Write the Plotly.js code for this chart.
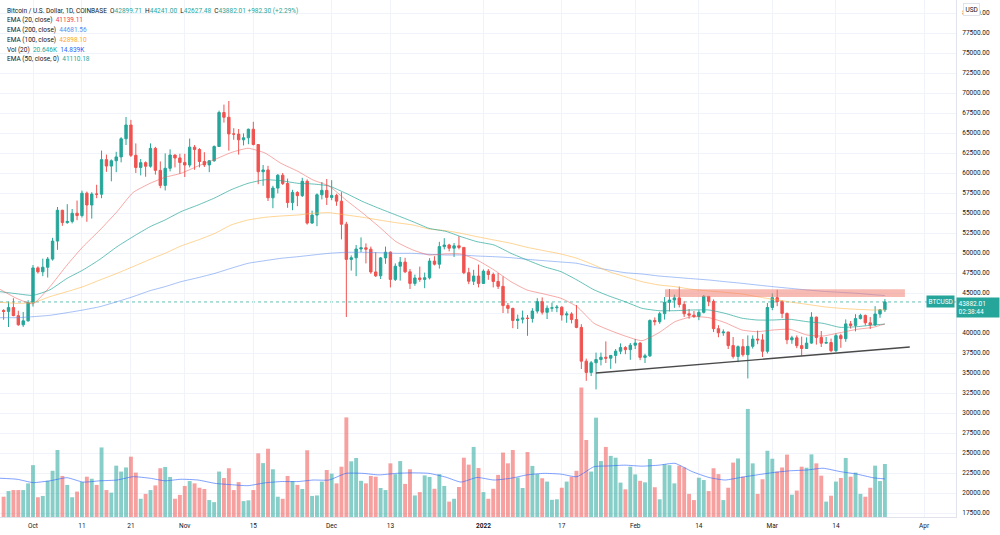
<!DOCTYPE html>
<html><head><meta charset="utf-8">
<script src="https://cdn.plot.ly/plotly-3.0.1.min.js"></script>
<style>html,body{margin:0;padding:0;background:#fff;}#chart{width:1000px;height:535px;}</style>
</head><body><div id="chart"></div>
<script>
// ---------- DATA (BTC/USD daily, Coinbase) ----------
const startDate = '2021-09-25';
const opens = [
 42820,42700,43180,42170,41030,41520,
 43790,48140,47650,48220,49240,51490,55340,53800,53950,54970,
 54680,57480,56000,57370,57350,61670,60870,61530,62010,64280,
 66000,62210,60690,61290,60850,63080,60330,58450,60590,62250,61880,
 61320,61000,63230,62940,61440,61010,61530,63310,67560,66970,
 64880,64860,64150,64400,65470,63560,60160,60380,56900,58120,
 59720,58690,56300,57570,57170,58960,53740,54740,57280,57830,
 56950,57200,56480,53600,49200,49400,50500,50650,50480,47630,
 47150,49390,50100,46700,48350,48860,47650,46200,46880,46700,
 46900,48990,48600,50800,51000,50600,50900,50700,47540,46470,47120,
 46200,47730,47310,46440,45830,43430,43080,41560,41730,41860,
 41820,42740,43920,42590,43100,43150,43230,42250,42380,41680,
 40700,36480,35070,36280,36680,36970,36850,37200,37730,38180,37920,
 38480,38740,36950,37150,41570,41410,42410,43840,44120,44390,
 43570,42400,42230,42070,42580,44580,43960,40540,40030,40120,
 38430,37070,38290,37290,38330,39240,39140,37720,
 43190,44420,43920,42450,39150,39400,38420,38060,38740,41980,
 39440,38730,38810,37790,39670,39290,41140,40950,41800,42200,
 41270,41000,42370,42899.71];
const highs = [
 42970,43920,44350,42780,42630,44100,
 48500,48330,49300,49500,51900,55750,55400,56100,55500,56560,
 57800,57680,57600,58530,62800,62300,61700,62650,64480,67000,
 66640,63700,61750,61450,63700,63270,61450,62450,62960,62300,62400,
 62400,64300,63500,63100,62600,61600,63450,67800,68550,69000,
 65600,65500,64950,65550,66400,63600,61000,60900,58400,59870,
 60000,59300,57900,57720,59400,59200,55300,57450,58870,59250,
 59100,57400,57600,53900,49700,51000,51950,51200,50800,50100,
 49500,50800,50200,48700,49500,49400,48000,47300,48300,47550,
 49350,49600,51400,51850,51150,51250,52100,50700,48150,47900,48550,
 47950,47990,47550,47500,47070,43750,43150,42300,42800,42250,
 43100,44350,44450,43450,43800,43500,43350,42700,42600,43500,
 41100,36800,36500,37550,37550,38950,37250,38000,38700,38360,38750,
 39250,38850,37400,41700,41950,42650,44500,45500,44800,45800,
 43950,43000,42750,42850,44750,44580,44200,40970,40450,40150,
 39500,38450,39250,39700,39700,40300,39850,43750,
 44950,45400,44100,42550,39650,39700,39550,39450,42600,42050,
 40250,39500,39300,39950,39900,41700,41500,42350,42400,42300,
 42000,43350,43000,44241.00];
const lows = [
 41650,40750,42100,40900,40760,41420,
 43300,47430,47100,46930,49050,50400,53400,53650,53700,54100,
 54440,53900,54300,56850,56850,60150,58960,60100,61330,63500,
 62000,60000,59700,59530,60670,59800,58100,57820,60200,60700,59900,
 59500,60700,60400,60700,60750,60100,61400,63300,66300,62800,
 64150,62300,63450,63600,63450,58600,58400,56500,55600,57450,
 58500,55650,55350,55850,57000,53550,53650,53350,56700,56000,
 56600,55900,51700,42000,47800,47100,50100,48700,47400,47000,
 46750,48650,45700,46500,46550,47500,45500,45900,46400,45600,
 46700,48450,48050,50450,50200,49500,50450,47350,46100,46000,45700,
 46150,46650,45700,45500,42500,42450,40600,40500,41200,39650,
 41300,42450,42300,41750,42650,42600,41550,41280,41200,40600,
 35500,34020,34620,32950,35950,36250,35520,36200,37350,37350,36650,
 38000,36600,36250,37000,40950,41150,41680,42700,43150,43200,
 42000,41780,41880,41600,42450,43350,40120,39470,39650,38000,
 36800,36350,37050,34320,38050,38600,37000,37450,
 42850,43350,41850,38600,38650,38100,37150,38000,38650,38550,
 38250,38700,37600,37600,38150,38900,40550,40200,41700,40950,
 40500,40900,41900,42627.48];
const closes = [
 42700,43180,42170,41030,41520,43790,
 48140,47650,48220,49240,51490,55340,53800,53950,54970,54680,
 57480,56000,57370,57350,61670,60870,61530,62010,64280,66000,
 62210,60690,61290,60850,63080,60330,58450,60590,62250,61880,61320,
 61000,63230,62940,61440,61010,61530,63310,67560,66970,64880,
 64860,64150,64400,65470,63560,60160,60380,56900,58120,59720,
 58690,56300,57570,57170,58960,53740,54740,57280,57830,56950,
 57200,56480,53600,49200,49400,50500,50650,50480,47630,47150,
 49390,50100,46700,48350,48860,47650,46200,46880,46700,46900,
 48990,48600,50800,51000,50600,50900,50700,47540,46470,47120,46200,
 47730,47310,46440,45830,43430,43080,41560,41730,41860,41820,
 42740,43920,42590,43100,43150,43230,42250,42380,41680,40700,
 36480,35070,36280,36680,36970,36850,37200,37730,38180,37920,38480,
 38740,36950,37150,41570,41410,42410,43840,44120,44390,43570,
 42400,42230,42070,42580,44580,43960,40540,40030,40120,38430,
 37070,38290,37290,38330,39240,39140,37720,43190,
 44420,43920,42450,39150,39400,38420,38060,38740,41980,39440,
 38730,38810,37790,39670,39290,41140,40950,41800,42200,41270,
 41000,42370,42899.71,43882.01];
const volumesK = [
 7.9,10.1,10.5,10.5,10.5,13.1,
 20.2,7.7,8.2,14.1,18.0,26.1,16.0,12.5,7.7,9.9,
 13.6,15.7,14.9,12.5,27.1,10.5,9.5,20.0,17.7,19.3,
 23.5,17.3,7.1,9.0,10.5,12.3,19.0,19.5,15.6,7.1,8.6,
 12.1,14.0,13.1,11.4,10.9,6.6,5.8,17.7,15.2,19.0,
 10.5,13.6,6.2,6.5,10.5,24.8,21.0,26.6,18.6,7.9,
 7.1,16.0,14.0,12.5,10.9,26.0,8.2,8.4,13.8,18.3,
 16.9,13.1,19.6,38.8,21.7,23.0,14.1,13.1,16.0,15.7,
 11.3,10.5,20.9,16.7,21.8,12.9,18.6,8.4,9.7,16.2,
 15.6,11.0,16.7,12.1,6.0,7.1,11.7,23.1,20.4,27.3,19.1,
 9.7,7.1,11.0,16.4,25.1,20.9,26.1,15.4,11.3,25.3,
 19.9,16.7,15.1,13.8,6.7,6.9,11.4,13.8,15.7,18.0,
 50.4,30.0,17.7,38.7,21.8,27.3,23.8,23.1,13.4,10.8,19.6,
 16.6,14.1,13.5,22.6,11.6,6.9,20.5,20.2,13.1,20.0,
 19.3,9.0,6.6,15.3,14.4,10.1,19.0,16.7,6.6,11.4,
 21.2,22.8,15.7,42.1,20.9,9.0,14.7,25.8,
 22.7,17.7,19.3,24.3,8.7,10.3,19.6,19.2,24.4,20.9,
 16.1,6.0,8.3,13.8,15.2,23.0,15.7,17.3,9.0,7.9,
 11.4,20.0,14.0,20.646];

// indicator lines
const emaDates = [
 '2021-09-24 06:00','2021-09-27 18:00','2021-10-01','2021-10-04 11:00','2021-10-07 23:00','2021-10-11 05:00','2021-10-14 16:00','2021-10-18 04:00','2021-10-21 10:00','2021-10-24 22:00',
 '2021-10-27 23:00','2021-10-31 05:30','2021-11-03 17:00','2021-11-07 04:00','2021-11-10 10:30','2021-11-13 22:00','2021-11-17 09:00','2021-11-20 15:30','2021-11-24 03:00','2021-11-27 04:30',
 '2021-11-30 11:00','2021-12-03 22:00','2021-12-07 09:30','2021-12-10 16:00','2021-12-14 03:30','2021-12-17 14:30','2021-12-20 21:00','2021-12-24 08:30','2021-12-27 10:00','2021-12-30 16:30',
 '2022-01-03 04:00','2022-01-06 15:00','2022-01-09 21:30','2022-01-13 09:00','2022-01-16 20:00','2022-01-20 02:30','2022-01-23 14:00','2022-01-26 15:30','2022-01-29 22:00','2022-02-02 09:30',
 '2022-02-05 20:30','2022-02-09 03:00','2022-02-12 14:30','2022-02-16 01:30','2022-02-19 08:00','2022-02-22 19:30','2022-02-25 21:00','2022-03-01 03:30','2022-03-04 15:00','2022-03-08 02:00',
 '2022-03-11 08:30','2022-03-14 20:00','2022-03-18 07:00','2022-03-21 13:30','2022-03-24'];
const ema20 = [
 45460,44300,43650,45790,48500,50790,52875,55170,57550,58710,
 59460,59960,60875,61700,62550,63090,62500,61210,60200,59125,
 58375,56625,54960,53290,51415,50375,49750,49900,49875,49125,
 47875,46415,45375,44875,44340,43300,41210,40375,39625,39040,
 40040,41415,42040,41915,41300,40375,40165,40375,40460,39750,
 39625,40040,40460,40710,41139.11];
const ema50 = [
 45170,44900,44700,45400,46830,47875,49210,50790,52040,53290,
 54125,55170,56000,56900,57900,58710,59150,59040,58710,58625,
 58375,57460,56415,55585,54750,53915,53085,52700,52040,51415,
 51000,49960,49125,48290,47665,46625,45400,44625,43915,43085,
 42790,42790,42875,42875,42460,41850,41625,41625,41710,41415,
 41210,40710,40790,41000,41110.18];
const ema100 = [
 43835,43710,43790,44540,45170,45790,46625,47460,48290,49210,
 49960,50875,51625,52460,53500,54125,54460,54625,54750,54960,
 55040,54750,54460,54125,53790,53500,53000,52790,52460,52040,
 51625,51210,50710,50290,49875,49335,48500,47665,47040,46415,
 46000,45790,45460,45250,45085,44875,44540,44210,43875,43585,
 43290,43085,42960,42875,42898.10];
const ema200 = [
 41915,41915,42040,42210,42540,42875,43290,43915,44540,45290,
 45790,46415,46915,47460,48085,48710,49040,49335,49540,49750,
 49960,50085,50085,50040,49960,49960,49835,49750,49750,49625,
 49540,49415,49210,49040,48875,48710,48210,47875,47540,47375,
 47125,46960,46790,46625,46415,46210,46000,45790,45585,45375,
 45210,45085,44960,44790,44681.56];
const volMA20K = [
 15.1,14.7,13.4,14.1,15.3,13.6,14.1,14.4,15.7,15.1,
 14.1,14.7,14.4,13.1,12.6,12.2,13.3,13.8,13.8,14.4,
 14.4,17.0,17.0,16.4,17.0,17.2,17.0,15.5,13.6,15.4,
 14.4,15.1,16.4,17.0,16.7,15.7,19.6,19.9,20.2,19.8,
 20.2,20.9,17.7,15.4,14.4,15.5,16.4,17.3,18.0,18.3,
 19.0,17.7,16.7,15.3,14.839];

// drawings
const zoneDates = ['2022-02-07 02:00','2022-03-28 02:00'];
const zonePrices = [44500, 45460];
const supportDates = ['2022-01-24','2022-03-29 02:00'];
const supportPrices = [35000, 38250];
const lastPrice = 43882.01;

// axis ticks
const xTickDates = ['2021-10-01','2021-10-11','2021-10-21','2021-11-01','2021-11-15','2021-12-01','2021-12-13','2022-01-01','2022-01-17','2022-02-01','2022-02-14','2022-03-01','2022-03-14','2022-04-01'];
const xTickText = ['Oct','11','21','Nov','15','Dec','13','<b>2022</b>','17','Feb','14','Mar','14','Apr'];
const yTickVals = [17500,20000,22500,25000,27500,30000,32500,35000,37500,40000,42500,45000,47500,50000,52500,55000,57500,60000,62500,65000,67500,70000,72500,75000,77500,80000];
const yTickText = yTickVals.map(v => v.toFixed(2));

// ---------- BUILD ----------
const GREEN = '#26a69a', RED = '#ef5350';
const dates = [];
const t0 = Date.parse(startDate + 'T00:00:00Z');
for (let i = 0; i < closes.length; i++) dates.push(new Date(t0 + i * 864e5).toISOString().slice(0, 10));
const volColors = closes.map((c, i) => c >= opens[i] ? 'rgba(38,166,154,0.55)' : 'rgba(239,83,80,0.55)');

const traces = [
 {type:'bar', x:dates, y:volumesK, yaxis:'y2', width:0.8*864e5, marker:{color:volColors, line:{width:0}}, hoverinfo:'skip'},
 {type:'scatter', mode:'lines', x:emaDates, y:volMA20K, yaxis:'y2', line:{color:'rgba(41,98,255,0.6)', width:1, shape:'spline', smoothing:0.5}, hoverinfo:'skip'},
 {type:'candlestick', x:dates, open:opens, high:highs, low:lows, close:closes,
  increasing:{line:{color:GREEN, width:1}, fillcolor:GREEN},
  decreasing:{line:{color:RED, width:1}, fillcolor:RED}, whiskerwidth:0, hoverinfo:'skip'},
 {type:'scatter', mode:'lines', x:emaDates, y:ema200, line:{color:'rgba(91,141,239,0.55)', width:1, shape:'spline', smoothing:0.5}, hoverinfo:'skip'},
 {type:'scatter', mode:'lines', x:emaDates, y:ema100, line:{color:'rgba(255,183,77,0.6)', width:1, shape:'spline', smoothing:0.5}, hoverinfo:'skip'},
 {type:'scatter', mode:'lines', x:emaDates, y:ema50, line:{color:'rgba(38,166,154,0.7)', width:1, shape:'spline', smoothing:0.5}, hoverinfo:'skip'},
 {type:'scatter', mode:'lines', x:emaDates, y:ema20, line:{color:'rgba(239,83,80,0.5)', width:1, shape:'spline', smoothing:0.5}, hoverinfo:'skip'}
];

const PW = 956, PH = 517;
function ann(px, py, text, extra) {
  return Object.assign({xref:'paper', yref:'paper', x:px/PW, y:1-py/PH, xanchor:'left', yanchor:'middle',
    text:text, showarrow:false, font:{size:6.5, color:'#131722'}}, extra || {});
}
const g = s => '<span style="color:#26a69a">' + s + '</span>';
const annotations = [
 ann(5, 10.7, 'Bitcoin / U.S. Dollar, 1D, COINBASE&nbsp;&nbsp;O' + g('42899.71') + '&nbsp;&nbsp;H' + g('44241.00') + '&nbsp;&nbsp;L' + g('42627.48') + '&nbsp;&nbsp;C' + g('43882.01') + '&nbsp;' + g('+982.30 (+2.29%)')),
 ann(5, 20.3, 'EMA (20, close)&nbsp;&nbsp;<span style="color:#f23645">41139.11</span>'),
 ann(5, 30, 'EMA (200, close)&nbsp;&nbsp;<span style="color:#5b8def">44681.56</span>'),
 ann(5, 40, 'EMA (100, close)&nbsp;&nbsp;<span style="color:#ffa726">42898.10</span>'),
 ann(5, 49.7, 'Vol (20)&nbsp;&nbsp;' + g('20.646K') + '&nbsp;&nbsp;<span style="color:#2962ff">14.839K</span>'),
 ann(5, 59.3, 'EMA (50, close, 0)&nbsp;&nbsp;' + g('41110.18')),
 ann(963, 10, 'USD', {bgcolor:'#ffffff', bordercolor:'#e0e3eb', borderwidth:1, borderpad:1.5}),
 {xref:'paper', yref:'y', x:955/PW, y:lastPrice, xanchor:'right', yanchor:'middle', text:'BTCUSD', showarrow:false,
  font:{size:6.5, color:'#ffffff'}, bgcolor:GREEN, borderpad:1.5},
 {xref:'paper', yref:'y', x:1, y:lastPrice, xanchor:'left', yanchor:'top', yshift:5, text:'43882.01<br>02:38:44', showarrow:false,
  font:{size:6.5, color:'#ffffff'}, bgcolor:GREEN, borderpad:1.5, width:39, align:'left'}
];

const shapes = [
 {type:'line', xref:'paper', x0:0, x1:1, yref:'y', y0:lastPrice, y1:lastPrice, line:{color:'rgba(38,166,154,0.7)', width:1, dash:'dot'}, layer:'below'},
 {type:'rect', xref:'x', yref:'y', x0:zoneDates[0], x1:zoneDates[1], y0:zonePrices[0], y1:zonePrices[1], fillcolor:'rgba(242,120,105,0.5)', line:{width:0}, layer:'above'},
 {type:'line', xref:'x', yref:'y', x0:supportDates[0], x1:supportDates[1], y0:supportPrices[0], y1:supportPrices[1], line:{color:'#4a4a4a', width:1.3}, layer:'above'}
];

const layout = {
 width:1000, height:535, margin:{l:0, r:44, t:0, b:18, pad:0},
 paper_bgcolor:'#ffffff', plot_bgcolor:'#ffffff', showlegend:false,
 font:{family:'Roboto, "Liberation Sans", Arial, sans-serif', size:6.5, color:'#131722'},
 xaxis:{type:'date', range:['2021-09-24 06:14','2022-04-07 12:30'], rangeslider:{visible:false},
  tickmode:'array', tickvals:xTickDates, ticktext:xTickText, showgrid:true, gridcolor:'#f0f3fa',
  showline:true, linecolor:'#e0e3eb', ticks:'', zeroline:false, tickfont:{size:6.5, color:'#131722'}, ticklabelstandoff:2, fixedrange:true},
 yaxis:{range:[17000, 81625], side:'right', tickmode:'array', tickvals:yTickVals, ticktext:yTickText,
  showgrid:true, gridcolor:'#f0f3fa', showline:true, linecolor:'#e0e3eb', ticks:'', zeroline:false,
  tickfont:{size:6.5, color:'#131722'}, ticklabelstandoff:4, fixedrange:true},
 yaxis2:{overlaying:'y', range:[0, 201.4], visible:false, fixedrange:true},
 shapes:shapes, annotations:annotations
};

Plotly.newPlot('chart', traces, layout, {displayModeBar:false, staticPlot:true});
</script></body></html>
